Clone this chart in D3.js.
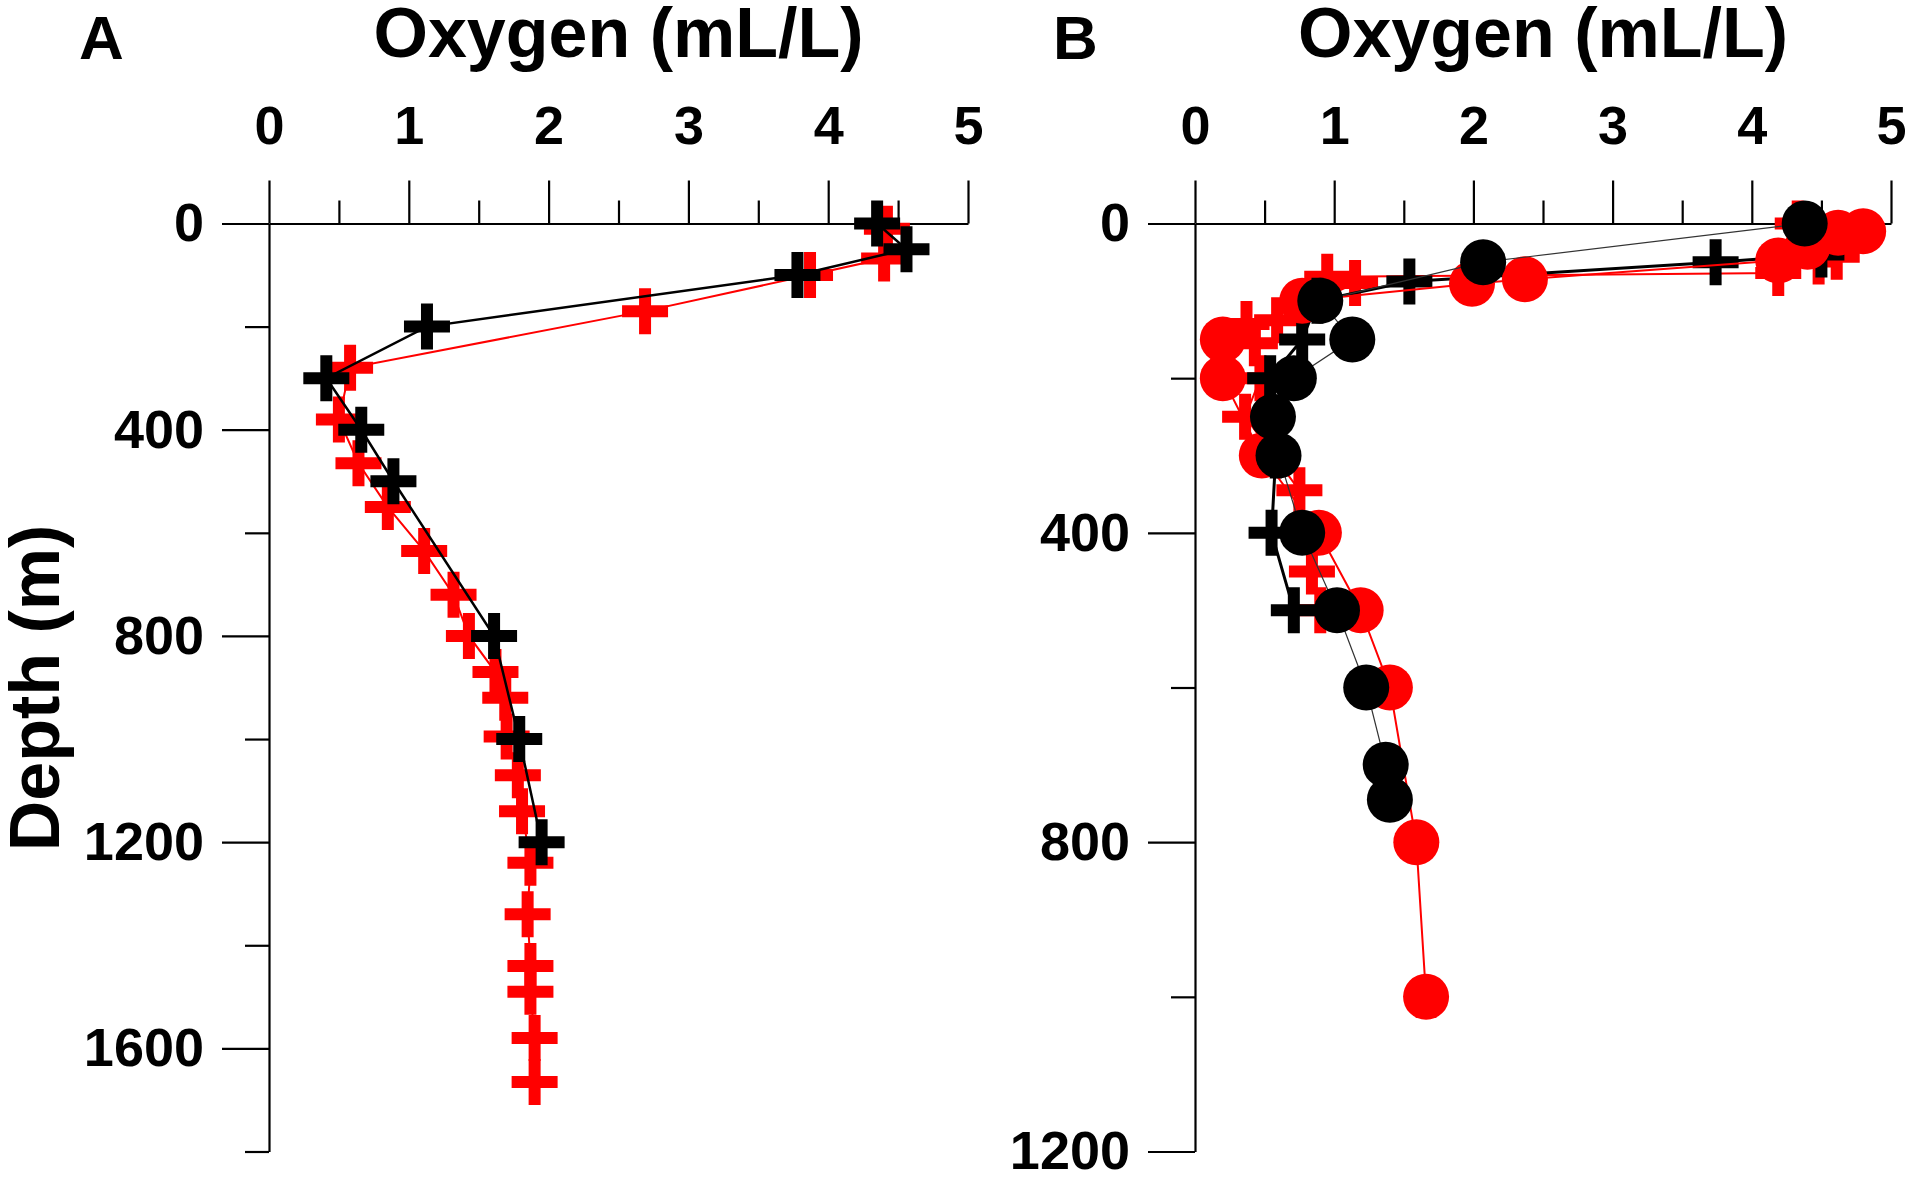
<!DOCTYPE html>
<html>
<head>
<meta charset="utf-8">
<script src="https://cdn.jsdelivr.net/npm/d3@7"></script>
<style>
  body { margin: 0; background: #fff; }
  text { font-family: "Liberation Sans", Arial, sans-serif; font-weight: bold; }
</style>
</head>
<body>
<div id="wrapper"></div>
<script>
// ---- data ----
const oxygenTicks = [0, 1, 2, 3, 4, 5];
const oxygenMinor = [0.5, 1.5, 2.5, 3.5, 4.5];
const depthTicksA = [0, 400, 800, 1200, 1600];
const depthMinorA = [200, 600, 1000, 1400, 1800];
const depthTicksB = [0, 400, 800, 1200];
const depthMinorB = [200, 600, 1000];

// Panel A
const aRedDepth = [10, 68, 100, 170, 280, 380, 465, 550, 635, 720, 800, 870, 920, 995, 1070, 1140, 1240, 1340, 1440, 1490, 1580, 1665];
const aRedO     = [4.42, 4.40, 3.87, 2.69, 0.58, 0.50, 0.64, 0.85, 1.11, 1.32, 1.43, 1.62, 1.69, 1.70, 1.78, 1.81, 1.87, 1.85, 1.87, 1.87, 1.90, 1.90];
const aBlackDepth = [0, 50, 100, 200, 300, 400, 500, 800, 1000, 1200];
const aBlackO     = [4.35, 4.56, 3.78, 1.13, 0.41, 0.66, 0.89, 1.61, 1.79, 1.95];

// Panel B
const bRedCrossDepth = [0, 43, 49, 64, 69, 77, 125, 130, 155, 200, 250, 345, 450, 500];
const bRedCrossO     = [4.33, 4.61, 4.48, 4.19, 0.95, 1.15, 0.59, 0.37, 0.43, 0.47, 0.36, 0.75, 0.84, 0.90];
const bBlackCrossDepth = [40, 50, 75, 100, 150, 200, 300, 400, 500];
const bBlackCrossO     = [4.50, 3.74, 1.54, 0.88, 0.77, 0.54, 0.58, 0.55, 0.71];
const bRedCircDepth = [10, 12, 30, 48, 72, 78, 100, 150, 200, 300, 400, 500, 600, 800, 1000];
const bRedCircO     = [4.80, 4.62, 4.40, 4.19, 2.37, 1.99, 0.77, 0.20, 0.20, 0.48, 0.89, 1.19, 1.40, 1.59, 1.66];
const bBlackCircDepth = [0, 50, 100, 150, 200, 250, 300, 400, 500, 600, 700, 745];
const bBlackCircO     = [4.38, 2.07, 0.90, 1.13, 0.71, 0.56, 0.60, 0.77, 1.02, 1.23, 1.37, 1.40];

const RED = "#ff0000";
const FONT = "'Liberation Sans', Arial, sans-serif";

const width = 1911, height = 1178;
const svg = d3.select("#wrapper").append("svg")
    .attr("width", width)
    .attr("height", height);

const crossPath = "M-23,-6H23V6H-23Z M-6,-23H6V23H-6Z";

function styleAxis(sel) {
    sel.attr("font-size", 54).attr("font-family", FONT).attr("font-weight", "bold");
    sel.selectAll("line, path").attr("stroke", "#000").attr("stroke-width", 2.2);
    sel.selectAll("text").attr("fill", "#000");
}

function drawPanel(cfg) {
    const x = d3.scaleLinear().domain([0, 5]).range(cfg.xRange);
    const y = d3.scaleLinear().domain([0, cfg.maxDepth]).range([223.5, 1151.5]);
    const g = svg.append("g");

    // top axis (oxygen)
    g.append("g")
        .attr("transform", `translate(0,${y(0)})`)
        .call(d3.axisTop(x).tickValues(oxygenTicks).tickFormat(d3.format("d"))
            .tickSize(43).tickSizeOuter(0).tickPadding(37))
        .call(styleAxis);
    g.append("g")
        .attr("transform", `translate(0,${y(0)})`)
        .call(d3.axisTop(x).tickValues(oxygenMinor).tickFormat("").tickSize(23).tickSizeOuter(0))
        .call(styleAxis)
        .call(s => s.select(".domain").remove());

    // left axis (depth)
    g.append("g")
        .attr("transform", `translate(${x(0)},0)`)
        .call(d3.axisLeft(y).tickValues(cfg.depthTicks).tickFormat(d3.format("d"))
            .tickSize(47).tickSizeOuter(0).tickPadding(18))
        .call(styleAxis);
    g.append("g")
        .attr("transform", `translate(${x(0)},0)`)
        .call(d3.axisLeft(y).tickValues(cfg.depthMinor).tickFormat("").tickSize(24).tickSizeOuter(0))
        .call(styleAxis)
        .call(s => s.select(".domain").remove());

    // title + panel letter
    g.append("text")
        .attr("x", (cfg.xRange[0] + cfg.xRange[1]) / 2)
        .attr("y", 57)
        .attr("text-anchor", "middle")
        .attr("font-size", 70)
        .text("Oxygen (mL/L)");
    g.append("text")
        .attr("x", cfg.letterX)
        .attr("y", 59)
        .attr("font-size", 62)
        .text(cfg.letter);

    const plot = g.append("g");
    cfg.series.forEach(s => {
        const pts = s.depth.map((d, i) => ({ d: d, v: s.values[i] }));
        plot.append("path")
            .datum(pts)
            .attr("d", d3.line().x(p => x(p.v)).y(p => y(p.d)))
            .attr("fill", "none")
            .attr("stroke", s.lineColor)
            .attr("stroke-width", s.lineWidth);
        if (s.shape === "cross") {
            plot.append("g").selectAll("path")
                .data(pts)
                .join("path")
                .attr("d", crossPath)
                .attr("transform", p => `translate(${x(p.v)},${y(p.d)})`)
                .attr("fill", s.color);
        } else {
            plot.append("g").selectAll("circle")
                .data(pts)
                .join("circle")
                .attr("cx", p => x(p.v))
                .attr("cy", p => y(p.d))
                .attr("r", 23)
                .attr("fill", s.color);
        }
    });
}

drawPanel({
    xRange: [269, 968],
    maxDepth: 1800,
    depthTicks: depthTicksA,
    depthMinor: depthMinorA,
    letter: "A",
    letterX: 79,
    series: [
        { depth: aRedDepth, values: aRedO, shape: "cross", color: RED, lineColor: RED, lineWidth: 2 },
        { depth: aBlackDepth, values: aBlackO, shape: "cross", color: "#000", lineColor: "#000", lineWidth: 2.5 }
    ]
});

drawPanel({
    xRange: [1195, 1891],
    maxDepth: 1200,
    depthTicks: depthTicksB,
    depthMinor: depthMinorB,
    letter: "B",
    letterX: 1053,
    series: [
        { depth: bRedCrossDepth, values: bRedCrossO, shape: "cross", color: RED, lineColor: RED, lineWidth: 2 },
        { depth: bBlackCrossDepth, values: bBlackCrossO, shape: "cross", color: "#000", lineColor: "#000", lineWidth: 3 },
        { depth: bRedCircDepth, values: bRedCircO, shape: "circle", color: RED, lineColor: RED, lineWidth: 2 },
        { depth: bBlackCircDepth, values: bBlackCircO, shape: "circle", color: "#000", lineColor: "#333", lineWidth: 1.2 }
    ]
});

// shared depth label
svg.append("text")
    .attr("transform", "translate(59,688) rotate(-90)")
    .attr("text-anchor", "middle")
    .attr("font-size", 70)
    .text("Depth (m)");
</script>
</body>
</html>
